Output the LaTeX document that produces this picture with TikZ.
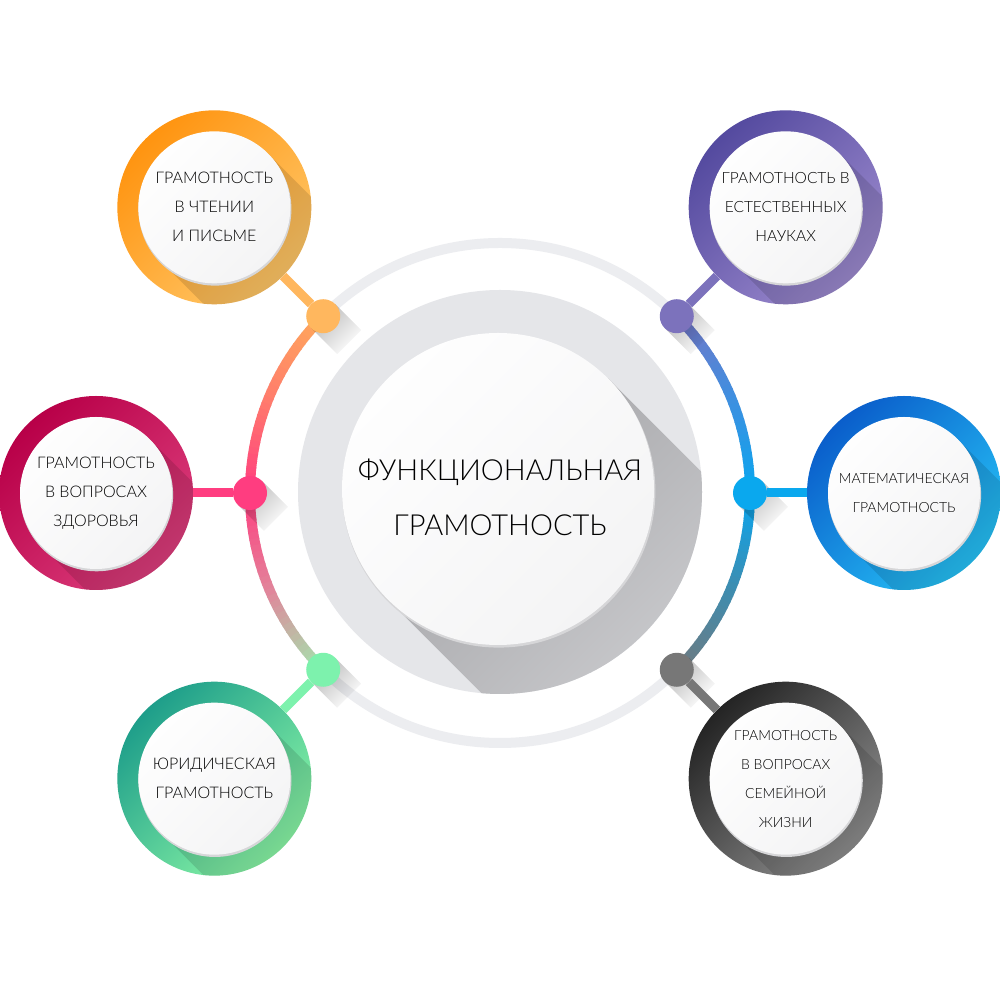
\documentclass[tikz,border=0pt]{standalone}
\usepackage{fontspec}
\setmainfont{Lato}[UprightFont={* Light}]
\usetikzlibrary{calc,fadings}
\definecolor{ringgray}{HTML}{ECEDF0}
\definecolor{diskgray}{HTML}{E5E6E9}
\definecolor{shadowdark}{HTML}{A6A6A9}
\definecolor{rimgray}{HTML}{D6D6D8}
\definecolor{whiteA}{HTML}{FEFEFE}
\definecolor{whiteB}{HTML}{F4F4F5}
% left arc stops
\definecolor{lA}{HTML}{FFAA5A}
\definecolor{lB}{HTML}{FF7D6C}
\definecolor{lC}{HTML}{FF3D7F}
\definecolor{lD}{HTML}{E2839A}
\definecolor{lE}{HTML}{A2E6AE}
% right arc stops
\definecolor{rA}{HTML}{6F7A80}
\definecolor{rB}{HTML}{3E8DB0}
\definecolor{rC}{HTML}{0AA6EF}
\definecolor{rD}{HTML}{3F8FE0}
\definecolor{rE}{HTML}{7476C6}
% satellites
\definecolor{orDark}{HTML}{FF9410}
\definecolor{orLight}{HTML}{FFC768}
\definecolor{orDot}{HTML}{FFB75E}
\definecolor{puDark}{HTML}{544A9F}
\definecolor{puLight}{HTML}{9C8ACE}
\definecolor{puDot}{HTML}{7C72BC}
\definecolor{crDark}{HTML}{B80048}
\definecolor{crLight}{HTML}{DC3E7C}
\definecolor{crDot}{HTML}{FF3D80}
\definecolor{blDark}{HTML}{0A5ECB}
\definecolor{blLight}{HTML}{26C2F6}
\definecolor{blDot}{HTML}{0AA8EE}
\definecolor{grDark}{HTML}{1E9E8A}
\definecolor{grLight}{HTML}{8AF6A6}
\definecolor{grDot}{HTML}{7DF2AD}
\definecolor{gyDark}{HTML}{242424}
\definecolor{gyLight}{HTML}{8E8E8E}
\definecolor{gyDot}{HTML}{777777}
\tikzfading[name=shfade, top color=transparent!72, bottom color=transparent!100]
\tikzset{
  dotnode/.style={circle, inner sep=0pt, minimum size=34pt},
  satnode/.style={circle, inner sep=0pt, minimum size=194pt},
  conn/.style={line width=9pt},
  txt/.style={align=center, text=black},
}
\newcommand\satdraw[7]{%
  % #1 id, #2 angle, #3 dark, #4 light, #5 dot colour, #6 font size, #7 text
  \coordinate (p#1) at ($(O)+(#2:404)$);
  \node[satnode, top color=#3, bottom color=#4, shading angle=45] (sat#1) at (p#1) {};
  \begin{scope}
    \clip (p#1) circle[radius=97];
    \fill[black, opacity=0.12] ($(p#1)+(53.7,53.7)$) -- ++(220,-220) -- ($(p#1)+(-53.7,-53.7)+(220,-220)$) -- ($(p#1)+(-53.7,-53.7)$) -- cycle;
  \end{scope}
  \fill[rimgray] ($(p#1)+(0.6,-1.8)$) circle[radius=76.5];
  \shade[top color=whiteA, bottom color=whiteB, shading angle=45] (p#1) circle[radius=76];
  \node[txt, font=\fontsize{#6}{29}\selectfont] (txt#1) at (p#1) {#7};
  \coordinate (q#1) at ($(O)+(#2:250)$);
  \fill[black, path fading=shfade, fading angle=45] ($(q#1)+(12,12)$) -- ++(26,-26) -- ($(q#1)+(-12,-12)+(26,-26)$) -- ($(q#1)+(-12,-12)$) -- cycle;
  \node[dotnode, fill=#5] (dot#1) at (q#1) {};
  \draw[conn, #5] (dot#1) -- (sat#1);
}
\begin{document}
\begin{tikzpicture}[x=1pt,y=1pt]
\useasboundingbox (0,0) rectangle (1000,1000);
\fill[white] (0,0) rectangle (1000,1000);
\coordinate (O) at (500,507);
\coordinate (G) at (500,508);
\coordinate (W) at (498,511);

% outer ring (gray base)
\draw[ringgray, line width=10pt] (O) circle[radius=250];
% left gradient arc
\foreach \sa/\ca/\cb in {135/lA/lB, 157.5/lB/lC, 180/lC/lD, 202.5/lD/lE} {
  \foreach \k in {0,...,14} {
    \pgfmathsetmacro\s{\sa+1.5*\k}
    \pgfmathsetmacro\e{\s+1.8}
    \pgfmathsetmacro\p{100-100*(\k+0.5)/15}
    \draw[line width=10pt, color=\ca!\p!\cb] ($(O)+(\s:250)$) arc[start angle=\s, end angle=\e, radius=250];
  }
}
% right gradient arc
\foreach \sa/\ca/\cb in {315/rA/rB, 337.5/rB/rC, 360/rC/rD, 382.5/rD/rE} {
  \foreach \k in {0,...,14} {
    \pgfmathsetmacro\s{\sa+1.5*\k}
    \pgfmathsetmacro\e{\s+1.8}
    \pgfmathsetmacro\p{100-100*(\k+0.5)/15}
    \draw[line width=10pt, color=\ca!\p!\cb] ($(O)+(\s:250)$) arc[start angle=\s, end angle=\e, radius=250];
  }
}

% central disk
\fill[diskgray] (G) circle[radius=202];
\begin{scope}
  \clip (G) circle[radius=202];
  \shade[top color=shadowdark, bottom color=diskgray, shading angle=45]
    ($(W)+(110.3,110.3)$) -- ++(300,-300) -- ($(W)+(-110.3,-110.3)+(300,-300)$) -- ($(W)+(-110.3,-110.3)$) -- cycle;
\end{scope}
\fill[rimgray] ($(W)+(0.8,-2)$) circle[radius=156.6];
\shade[top color=whiteA, bottom color=whiteB, shading angle=45] (W) circle[radius=156];
\node[txt, font=\fontsize{29}{55}\selectfont] (main) at (500,503) {ФУНКЦИОНАЛЬНАЯ\\ГРАМОТНОСТЬ};

% satellites
\satdraw{A}{135}{orDark}{orLight}{orDot}{16}{ГРАМОТНОСТЬ\\В ЧТЕНИИ\\И ПИСЬМЕ}
\satdraw{B}{45}{puDark}{puLight}{puDot}{15.5}{ГРАМОТНОСТЬ В\\ЕСТЕСТВЕННЫХ\\НАУКАХ}
\satdraw{C}{180}{crDark}{crLight}{crDot}{16}{ГРАМОТНОСТЬ\\В ВОПРОСАХ\\ЗДОРОВЬЯ}
\satdraw{D}{0}{blDark}{blLight}{blDot}{14}{МАТЕМАТИЧЕСКАЯ\\ГРАМОТНОСТЬ}
\satdraw{E}{225}{grDark}{grLight}{grDot}{16}{ЮРИДИЧЕСКАЯ\\ГРАМОТНОСТЬ}
\satdraw{F}{315}{gyDark}{gyLight}{gyDot}{14}{ГРАМОТНОСТЬ\\В ВОПРОСАХ\\СЕМЕЙНОЙ\\ЖИЗНИ}
\end{tikzpicture}
\end{document}
